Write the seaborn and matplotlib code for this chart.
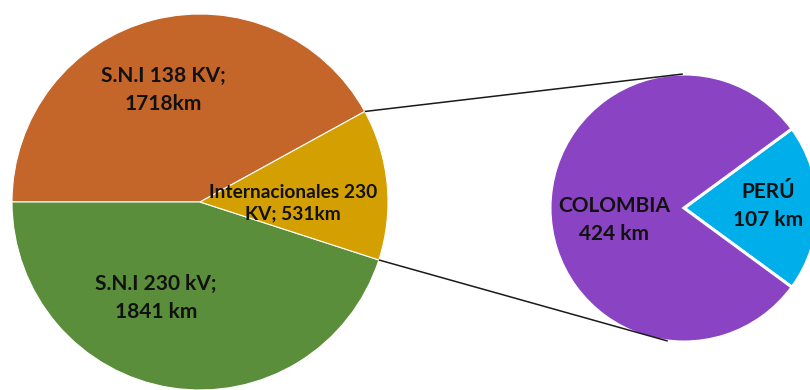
import matplotlib
matplotlib.use("Agg")
import numpy as np
import matplotlib.pyplot as plt
import seaborn as sns

# Main pie: transmission line lengths by voltage level
main_labels = ["S.N.I 138 KV;\n1718km", "S.N.I 230 kV;\n1841 km", "Internacionales 230\nKV; 531km"]
main_values = [1718, 1841, 531]
main_colors = ["#C4652A", "#5B8E3A", "#D49F00"]

# Secondary pie: breakdown of the international 230 kV lines
split_labels = ["PERÚ\n107 km", "COLOMBIA\n424 km"]
split_values = [107, 424]
split_colors = ["#00AEEA", "#8A43C2"]

sns.set_theme(style="white")
plt.rcParams["font.family"] = ["Lato", "DejaVu Sans"]

fig = plt.figure(figsize=(8.1, 3.9), dpi=100)
ax = fig.add_axes([0, 0, 1, 1])

main_center = (200, 188)
main_r = 188
split_center = (684, 182)
split_r = 134

total = sum(main_values)
start = 180 - main_values[0] / total * 360
main_wedges, _ = ax.pie(main_values, colors=main_colors, startangle=start,
                        center=main_center, radius=main_r, frame=True,
                        wedgeprops=dict(edgecolor="white", linewidth=0.8))

split_total = sum(split_values)
split_start = -split_values[0] / split_total * 360 / 2
split_wedges, _ = ax.pie(split_values, colors=split_colors, startangle=split_start,
                         center=split_center, radius=split_r, frame=True,
                         wedgeprops=dict(edgecolor="white", linewidth=2.2))

# connector lines from the international wedge to the secondary pie
w = main_wedges[2]
for th, phi in [(w.theta2, 90.5), (w.theta1, 263)]:
    x0 = main_center[0] + main_r * np.cos(np.radians(th))
    y0 = main_center[1] + main_r * np.sin(np.radians(th))
    x1 = split_center[0] + split_r * np.cos(np.radians(phi))
    y1 = split_center[1] + split_r * np.sin(np.radians(phi))
    ax.plot([x0, x1], [y0, y1], color="#1a1a1a", lw=1.1, zorder=5,
            solid_capstyle="butt")

txt = dict(ha="center", va="center", fontweight="bold", color="#111111")
ax.text(163, 300, main_labels[0], fontsize=15, linespacing=1.5, **txt)
ax.text(156, 92, main_labels[1], fontsize=15, linespacing=1.5, **txt)
ax.text(293, 187, main_labels[2], fontsize=13.8, linespacing=1.35, **txt)
ax.text(768, 184, split_labels[0], fontsize=15, linespacing=1.55, **txt)
ax.text(614, 170, split_labels[1], fontsize=15, linespacing=1.5, **txt)

ax.set_xlim(0, 810)
ax.set_ylim(0, 390)
ax.set_aspect("equal")
ax.axis("off")

fig.savefig("out.png", dpi=100, facecolor="white")
